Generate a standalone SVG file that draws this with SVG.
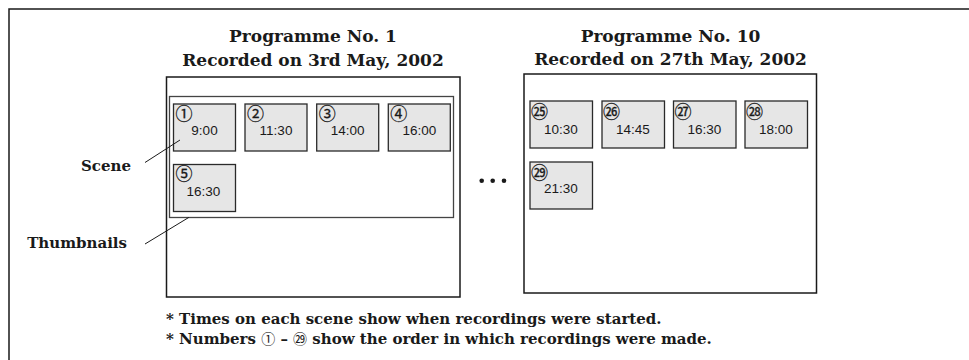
<svg xmlns="http://www.w3.org/2000/svg" width="969" height="360" viewBox="0 0 969 360">
<style>
.frame{fill:none;stroke:#1a1a1a;stroke-width:1.5}
.box{fill:#fff;stroke:#1a1a1a;stroke-width:1.5}
.inner{fill:none;stroke:#444;stroke-width:1.3}
.thumb{fill:#e6e6e6;stroke:#2a2a2a;stroke-width:1.3}
.title{font-family:"DejaVu Serif",serif;font-weight:bold;font-size:17px;fill:#1a1a1a;text-anchor:middle}
.label{font-family:"DejaVu Serif",serif;font-weight:bold;font-size:15px;fill:#1a1a1a;text-anchor:end}
.time{font-family:"Liberation Sans",Arial,sans-serif;font-size:13.5px;fill:#1a1a1a;text-anchor:middle}
.num{font-family:"Noto Sans CJK JP",sans-serif;font-size:17px;fill:#1a1a1a;stroke:#1a1a1a;stroke-width:0.3;text-anchor:middle}
.note{font-family:"DejaVu Serif",serif;font-weight:bold;font-size:15px;fill:#1a1a1a}
.cn{font-family:"Noto Sans CJK JP",sans-serif;font-weight:normal;font-size:14px}
.lead{stroke:#1a1a1a;stroke-width:1;fill:none}
</style>
<path class="frame" d="M9,360 V9 H969"/>

<g id="programme1">
  <rect class="box" x="166.5" y="77" width="293.5" height="220"/>
  <text class="title" x="313" y="42">Programme No. 1</text>
  <text class="title" x="313" y="65.5">Recorded on 3rd May, 2002</text>
</g>
<g id="thumbnails1">
  <rect class="inner" x="169.5" y="96.5" width="284" height="121"/>
</g>
<g id="scene1"><rect class="thumb" x="173.5" y="104" width="62" height="47"/><text class="num" x="184" y="119.5">①</text><text class="time" x="204.5" y="135">9:00</text></g>
<g id="scene2"><rect class="thumb" x="245" y="104" width="62" height="47"/><text class="num" x="255.5" y="119.5">②</text><text class="time" x="276" y="135">11:30</text></g>
<g id="scene3"><rect class="thumb" x="316.7" y="104" width="62" height="47"/><text class="num" x="327.2" y="119.5">③</text><text class="time" x="347.7" y="135">14:00</text></g>
<g id="scene4"><rect class="thumb" x="388.3" y="104" width="62" height="47"/><text class="num" x="398.8" y="119.5">④</text><text class="time" x="419.3" y="135">16:00</text></g>
<g id="scene5"><rect class="thumb" x="173.5" y="164.5" width="62" height="47"/><text class="num" x="184" y="180">⑤</text><text class="time" x="203.5" y="195.5">16:30</text></g>

<g id="dots">
  <circle cx="481.7" cy="180.7" r="2.3" fill="#1a1a1a"/>
  <circle cx="492.7" cy="180.7" r="2.3" fill="#1a1a1a"/>
  <circle cx="504" cy="180.7" r="2.3" fill="#1a1a1a"/>
</g>

<g id="programme10">
  <rect class="box" x="524" y="74" width="292.5" height="219"/>
  <text class="title" x="670.5" y="42">Programme No. 10</text>
  <text class="title" x="670.5" y="65">Recorded on 27th May, 2002</text>
</g>
<g id="scene25"><rect class="thumb" x="530" y="101" width="62.5" height="47"/><text class="num" x="539.5" y="117.5">㉕</text><text class="time" x="561" y="133.5">10:30</text></g>
<g id="scene26"><rect class="thumb" x="602" y="101" width="62.5" height="47"/><text class="num" x="611.5" y="117.5">㉖</text><text class="time" x="633" y="133.5">14:45</text></g>
<g id="scene27"><rect class="thumb" x="673.5" y="101" width="62.5" height="47"/><text class="num" x="683" y="117.5">㉗</text><text class="time" x="704.5" y="133.5">16:30</text></g>
<g id="scene28"><rect class="thumb" x="745" y="101" width="62.5" height="47"/><text class="num" x="754.5" y="117.5">㉘</text><text class="time" x="776" y="133.5">18:00</text></g>
<g id="scene29"><rect class="thumb" x="530" y="162" width="62.5" height="47"/><text class="num" x="539.5" y="178.5">㉙</text><text class="time" x="561" y="192.5">21:30</text></g>

<g id="label-scene"><text class="label" x="131" y="171">Scene</text></g>
<g id="label-thumbnails"><text class="label" x="127" y="248">Thumbnails</text></g>

<g id="connectors">
  <line class="lead" x1="145" y1="162.5" x2="180" y2="140"/>
  <line class="lead" x1="145" y1="244" x2="189" y2="217.3"/>
</g>

<g id="notes">
  <text class="note" x="166" y="323.5">* Times on each scene show when recordings were started.</text>
  <text class="note" x="166" y="343.5">* Numbers <tspan class="cn">①</tspan> – <tspan class="cn">㉙</tspan> show the order in which recordings were made.</text>
</g>
</svg>
